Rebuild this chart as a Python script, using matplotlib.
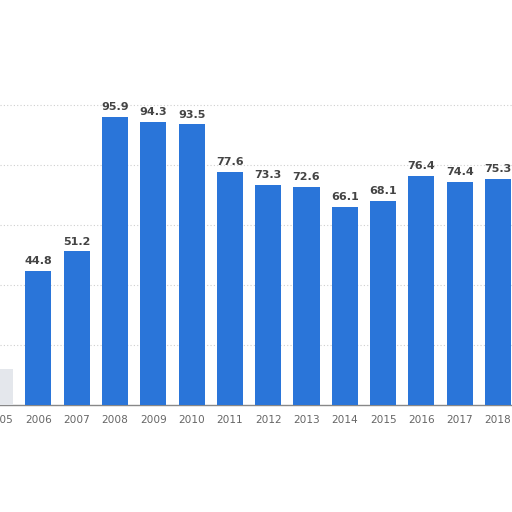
import matplotlib.pyplot as plt
import numpy as np

years = ['2005', '2006', '2007', '2008', '2009', '2010', '2011',
         '2012', '2013', '2014', '2015', '2016', '2017', '2018']
values = [12.0, 44.8, 51.2, 95.9, 94.3, 93.5, 77.6,
          73.3, 72.6, 66.1, 68.1, 76.4, 74.4, 75.3]

blue = '#2a75d9'

fig = plt.figure(figsize=(5.12, 5.12), dpi=100)
ax = fig.add_axes([0, 0.209, 1, 0.791])

x = np.arange(len(years))
colors = [blue] * len(years)
colors[0] = '#e4e7ec'  # faded first bar
ax.bar(x, values, width=0.68, color=colors, zorder=3)

for i, v in enumerate(values):
    if i == 0:
        continue
    ax.text(i, v + 1.6, f'{v:.1f}', ha='center', va='bottom',
            fontsize=8, fontweight='bold', color='#444444', zorder=4)

ax.set_xlim(0.065, 0.065 + 512 / 38.5)
ax.set_ylim(0, 135)

ax.set_yticks([20, 40, 60, 80, 100])
ax.yaxis.grid(True, linestyle=(0, (1, 2)), color='#cfcfcf', linewidth=0.8, zorder=0)
ax.tick_params(axis='y', left=False, labelleft=False)

ax.set_xticks(x)
ax.set_xticklabels(years)
ax.tick_params(axis='x', length=0, pad=7, labelsize=7.6, labelcolor='#666666')

for s in ['top', 'right', 'left']:
    ax.spines[s].set_visible(False)
ax.spines['bottom'].set_color('#888888')
ax.spines['bottom'].set_linewidth(1.0)

fig.savefig('out.png', dpi=100)
